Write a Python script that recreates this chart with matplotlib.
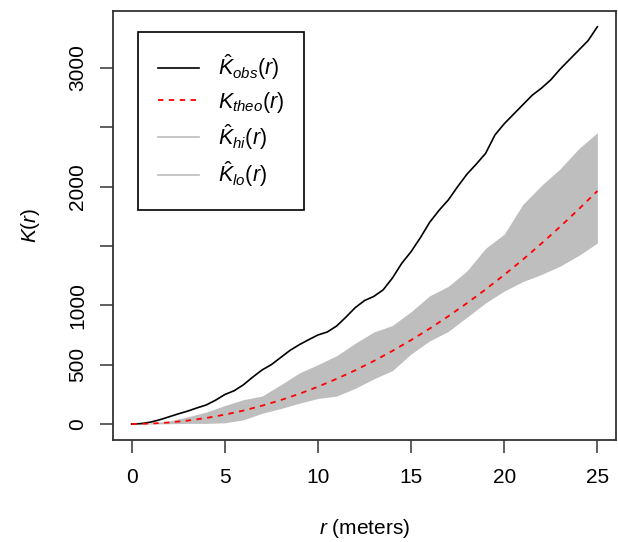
import numpy as np
import matplotlib
matplotlib.use('Agg')
import matplotlib.pyplot as plt
from matplotlib.lines import Line2D

plt.rcParams['font.family'] = ['Liberation Sans', 'DejaVu Sans']
plt.rcParams['mathtext.fontset'] = 'custom'
plt.rcParams['mathtext.rm'] = 'Liberation Sans'
plt.rcParams['mathtext.it'] = 'Liberation Sans:italic'

r_obs = np.arange(0, 25.5, 0.5)
k_obs = [0, 3, 15, 35, 60, 85, 108, 135, 160, 200,
         248, 280, 330, 395, 455, 500, 560, 620, 668, 710,
         750, 775, 825, 900, 980, 1040, 1075, 1130, 1230, 1354,
         1452, 1570, 1700, 1800, 1888, 2000, 2105, 2190, 2280, 2435,
         2530, 2610, 2690, 2770, 2830, 2900, 2990, 3070, 3150, 3230,
         3347]

# theoretical and envelope, r step 1
r_env = np.arange(0, 26, 1)
k_theo = [0, 3.1, 12.6, 28.3, 50.3, 78.5, 113, 154, 201, 254,
          314, 380, 452, 531, 616, 707, 804, 908, 1018, 1134,
          1257, 1385, 1521, 1662, 1810, 1963]
k_hi = [0, 8, 25, 60, 100, 155, 205, 235, 330, 430,
        500, 575, 680, 775, 830, 946, 1080, 1160, 1290, 1480,
        1600, 1850, 2010, 2150, 2320, 2455]
k_lo = [0, 0, 2, 5, 5, 10, 35, 90, 130, 175,
        215, 235, 300, 380, 450, 590, 700, 780, 900, 1020,
        1120, 1200, 1260, 1330, 1420, 1525]

fig = plt.figure(figsize=(6.18, 5.42), dpi=100)
ax = fig.add_axes([113/618, 1-440/542, (616-113)/618, (440-11)/542])

ax.fill_between(r_env, k_lo, k_hi, color='#BEBEBE', lw=0)
ax.plot(r_obs, k_obs, color='black', lw=1.2)
ax.plot(r_env, k_theo, color='red', lw=1.3, ls=(0, (3, 3)))

ax.set_xlim(-1, 26)
ax.set_ylim(-135, 3480)
ax.set_xticks([0, 5, 10, 15, 20, 25])
ax.set_yticks([0, 500, 1000, 1500, 2000, 2500, 3000])
ax.set_yticklabels(['0', '500', '1000', '', '2000', '', '3000'], rotation=90, va='center')
ax.tick_params(axis='both', direction='out', length=9.4, width=1.1, labelsize=15, color='#333333')
ax.tick_params(axis='x', pad=11)
ax.tick_params(axis='y', pad=9)
for s in ax.spines.values():
    s.set_linewidth(1.3)
    s.set_color('#333333')

ax.set_xlabel(r'$r$ (meters)', fontsize=15, labelpad=21)
ax.set_ylabel(r'$K(r)$', fontsize=15, labelpad=19)

handles = [Line2D([], [], color='black', lw=1.2),
           Line2D([], [], color='red', lw=1.3, ls=(0, (3, 3))),
           Line2D([], [], color='#BEBEBE', lw=1.2),
           Line2D([], [], color='#BEBEBE', lw=1.2)]
labels = [r'$\hat{K}_{obs}(r)$', r'$K_{theo}(r)$', r'$\hat{K}_{hi}(r)$', r'$\hat{K}_{lo}(r)$']
leg = ax.legend(handles, labels, loc='upper left', bbox_to_anchor=(138/618, 1-32/542),
                bbox_transform=fig.transFigure, borderaxespad=0, fontsize=15.5,
                fancybox=False, framealpha=1, edgecolor='black', borderpad=0.95,
                handlelength=1.9, handletextpad=0.85, labelspacing=0.35)
leg.get_frame().set_linewidth(1.2)

fig.savefig('out.png', dpi=100)
